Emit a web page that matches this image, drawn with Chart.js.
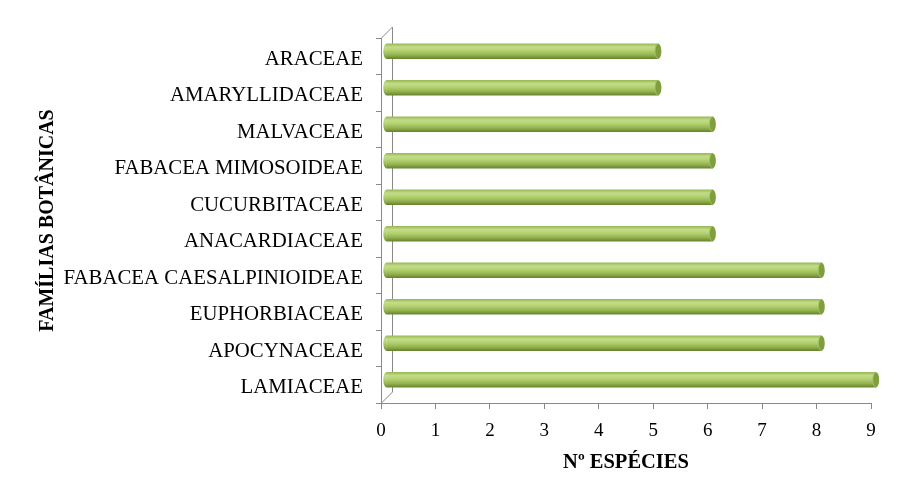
<!DOCTYPE html>
<html>
<head>
<meta charset="utf-8">
<script src="https://cdn.jsdelivr.net/npm/chart.js@4/dist/chart.umd.min.js"></script>
<style>
  html, body { margin: 0; padding: 0; background: #ffffff; }
  #wrap { width: 921px; height: 499px; position: relative; }
</style>
</head>
<body>
<div id="wrap"><canvas id="c" width="921" height="499"></canvas></div>
<script>
const categories = ['ARACEAE','AMARYLLIDACEAE','MALVACEAE','FABACEA MIMOSOIDEAE','CUCURBITACEAE','ANACARDIACEAE','FABACEA CAESALPINIOIDEAE','EUPHORBIACEAE','APOCYNACEAE','LAMIACEAE'];
const species = [5, 5, 6, 6, 6, 6, 8, 8, 8, 9];
const xMin = 0, xMax = 9, xStep = 1;
const xTitle = 'Nº ESPÉCIES';
const yTitle = 'FAMÍLIAS BOTÂNICAS';

const SERIF = "'Liberation Serif', 'Times New Roman', serif";
const DEPTH = 11;          // 3D wall depth
const SHIFT_X = 5, SHIFT_Y = -5; // bars sit at mid depth
const BAR_H = 15;
const AXIS_COLOR = '#898989';

function barGradient(ctx, yc) {
  const g = ctx.createLinearGradient(0, yc - BAR_H / 2, 0, yc + BAR_H / 2);
  g.addColorStop(0, '#98b957');
  g.addColorStop(0.22, '#c3dd87');
  g.addColorStop(0.45, '#b5d273');
  g.addColorStop(0.75, '#93b34f');
  g.addColorStop(1, '#66852e');
  return g;
}

const cylinderPlugin = {
  id: 'cylinder',
  beforeDatasetsDraw(chart) {
    const { ctx, chartArea: a } = chart;
    ctx.save();
    ctx.strokeStyle = AXIS_COLOR;
    ctx.lineWidth = 1;
    ctx.beginPath();
    ctx.moveTo(a.left + 0.5, a.top);
    ctx.lineTo(a.left + DEPTH + 0.5, a.top - DEPTH);
    ctx.lineTo(a.left + DEPTH + 0.5, a.bottom - DEPTH);
    ctx.lineTo(a.left + 0.5, a.bottom);
    ctx.stroke();
    ctx.restore();
    ctx.save();
    ctx.translate(SHIFT_X, SHIFT_Y);
  },
  afterDatasetsDraw(chart) {
    const { ctx } = chart;
    const meta = chart.getDatasetMeta(0);
    meta.data.forEach((el) => {
      const ry = el.height / 2;
      const rx = 3.2;
      ctx.beginPath();
      ctx.ellipse(el.base, el.y, rx, ry, 0, Math.PI / 2, Math.PI * 1.5);
      ctx.closePath();
      ctx.fillStyle = barGradient(ctx, el.y);
      ctx.fill();
      ctx.beginPath();
      ctx.ellipse(el.x, el.y, rx, ry, 0, 0, Math.PI * 2);
      ctx.fillStyle = '#7f9e3f';
      ctx.fill();
      ctx.lineWidth = 0.8;
      ctx.strokeStyle = '#a6c463';
      ctx.beginPath();
      ctx.ellipse(el.x, el.y, rx, ry, 0, Math.PI / 2, Math.PI * 1.5);
      ctx.stroke();
    });
    ctx.restore();
  }
};

new Chart(document.getElementById('c'), {
  type: 'bar',
  data: {
    labels: categories,
    datasets: [{
      data: species,
      barThickness: BAR_H,
      borderWidth: 0,
      clip: false,
      backgroundColor(c) {
        const chart = c.chart;
        if (!chart.chartArea || !chart.scales.y) return '#9bbb59';
        const yc = chart.scales.y.getPixelForValue(c.dataIndex);
        return barGradient(chart.ctx, yc);
      }
    }]
  },
  options: {
    indexAxis: 'y',
    responsive: false,
    animation: false,
    devicePixelRatio: 1,
    layout: { padding: { top: 38, right: 50, bottom: 0, left: 0 } },
    plugins: { legend: { display: false }, tooltip: { enabled: false } },
    scales: {
      x: {
        min: xMin, max: xMax,
        ticks: { stepSize: xStep, color: '#000', padding: 11, font: { family: SERIF, size: 19 } },
        grid: { drawOnChartArea: false, drawTicks: true, tickLength: 6, color: AXIS_COLOR },
        border: { color: AXIS_COLOR },
        title: { display: true, text: xTitle, color: '#000', padding: { top: 0, bottom: 24 },
                 font: { family: SERIF, size: 20.5, weight: 'bold' } },
        afterFit(s) { s.height = 96; }
      },
      y: {
        ticks: { color: '#000', padding: 13, labelOffset: 3, font: { family: SERIF, size: 20.8 } },
        grid: { drawOnChartArea: false, drawTicks: true, tickLength: 5, color: AXIS_COLOR, offset: true },
        border: { color: AXIS_COLOR },
        title: { display: true, text: yTitle, color: '#000', padding: { top: 36, bottom: 0 },
                 font: { family: SERIF, size: 20, weight: 'bold' } },
        afterFit(s) { s.width = 381; }
      }
    }
  },
  plugins: [cylinderPlugin]
});
</script>
</body>
</html>
